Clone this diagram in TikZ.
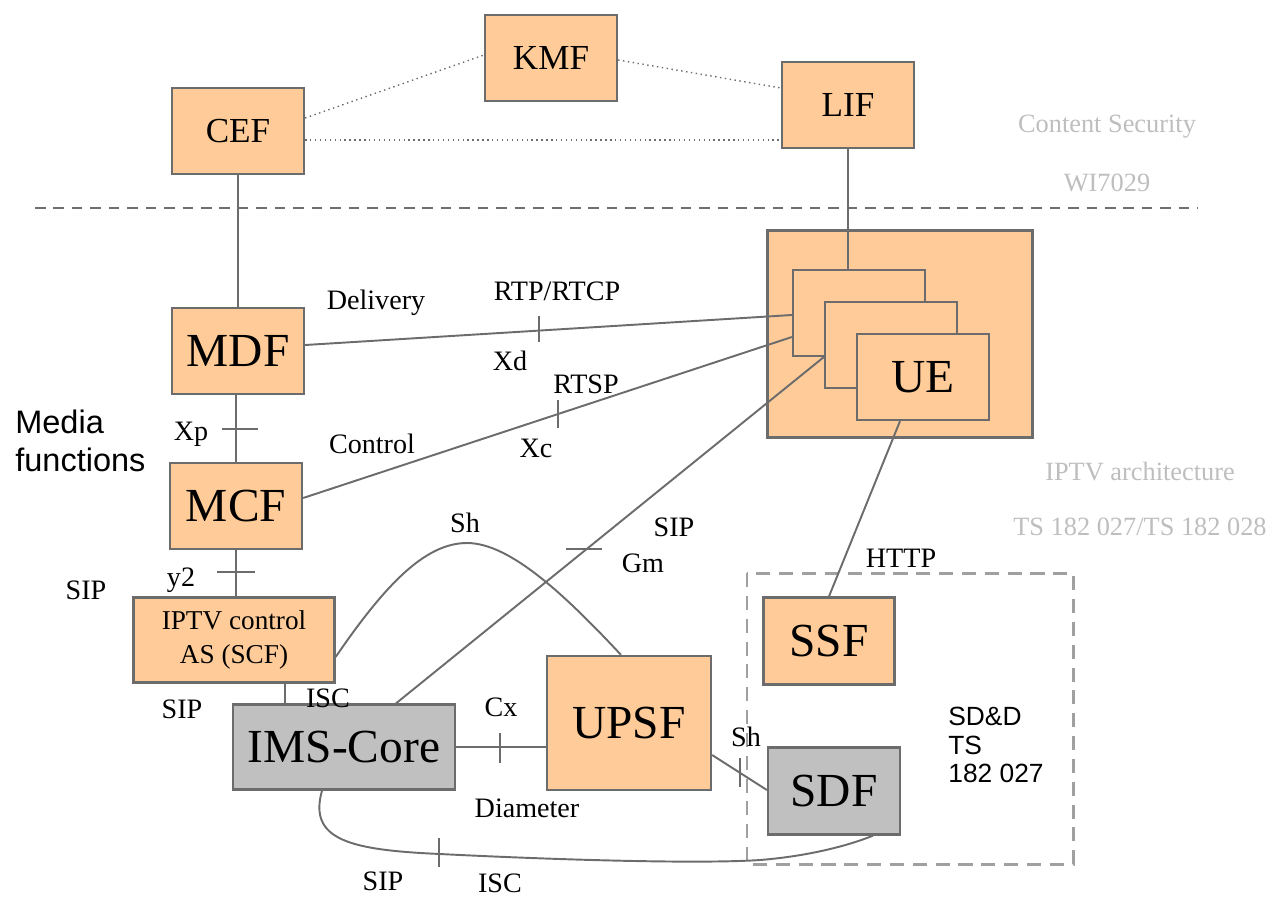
\documentclass[tikz,border=0pt]{standalone}
\usepackage{fontspec}
\setmainfont{Liberation Serif}
\setsansfont{Liberation Sans}
\definecolor{peach}{RGB}{255,204,153}
\definecolor{edge}{RGB}{108,108,108}
\definecolor{corefill}{RGB}{192,192,192}
\definecolor{faint}{RGB}{190,190,190}
\definecolor{sep}{RGB}{110,110,110}
\definecolor{sdd}{RGB}{160,160,160}
\tikzset{
	func/.style={draw=edge, line width=1.3pt, fill=peach, inner sep=0pt,
		minimum width=2.64cm, minimum height=1.72cm},
	core/.style={func, fill=corefill},
	link/.style={draw=edge, line width=1.1pt},
	lbl/.style={font=\fontsize{16}{18}\selectfont, inner sep=0pt},
	note/.style={text=faint, font=\fontsize{15}{18}\selectfont, inner sep=0pt},
	small/.style={font=\fontsize{20}{24}\selectfont},
	big/.style={font=\fontsize{27}{30}\selectfont}
}
\begin{document}
\begin{tikzpicture}[x=0.02cm, y=-0.02cm]
	\useasboundingbox (0,0) rectangle (1272,897);
	
	% content security part
	\node [func, small] (kmf) at (551,58) {KMF};
	\node [func, small] (cef) at (238,131) {CEF};
	\node [func, small] (lif) at (848,105) {LIF};
	\draw [edge, line width=.8pt, dotted] (cef.east |- 0,118) -- (kmf.west |- 0,55);
	\draw [edge, line width=.8pt, dotted] (kmf.east |- 0,60) -- (lif.west |- 0,88);
	\draw [edge, line width=.8pt, dotted] (cef.east |- 0,140) -- (lif.west |- 0,140);
	\node [note] (cs) at (1107,127) {Content Security};
	\node [note] (wi) at (1107,183) {WI7029};
	\draw [sep, line width=1.3pt, dash pattern=on 6pt off 4.5pt] (35,208) -- (1198,208);
	
	% user equipment
	\node [func, minimum width=5.3cm, minimum height=4.14cm] (uebox) at (900,334) {};
	\node [func] (ue1) at (859,313) {};
	\node [func] (ue2) at (891,345) {};
	\node [func, big] (ue3) at (923,377) {UE};
	
	% media functions
	\node [func, big] (mdf) at (238,351) {MDF};
	\node [func, big] (mcf) at (236,506) {MCF};
	\node [anchor=west, align=left, font=\sffamily\fontsize{18.5}{22}\selectfont, inner sep=0pt] (media) at (15,441) {Media\\functions};
	\node [func, minimum width=4.02cm, minimum height=1.7cm, align=center,
		font=\fontsize{15.5}{19}\selectfont] (iptv) at (234,640) {IPTV control\\AS (SCF)};
	\node [core, big, minimum width=4.44cm, minimum height=1.7cm] (ims) at (344,747) {IMS-Core};
	\node [func, big, minimum width=3.28cm, minimum height=2.68cm] (upsf) at (629,723) {UPSF};
	
	% SD&D
	\draw [sdd, line width=1.7pt, dash pattern=on 8pt off 5pt] (747,573) rectangle (1073,864);
	\node [func, big, minimum width=2.62cm, minimum height=1.74cm] (ssf) at (829,641) {SSF};
	\node [core, big, minimum width=2.64cm, minimum height=1.74cm] (sdf) at (834,791) {SDF};
	\node [anchor=west, align=left, font=\sffamily\fontsize{15}{16}\selectfont, inner sep=0pt] (sddtext) at (948,745) {SD\&D\\TS\\182 027};
	\node [note] (arch) at (1140,472) {IPTV architecture};
	\node [note] (ts) at (1140,527) {TS 182 027/TS 182 028};
	
	% connections
	\draw [link] (lif.south) -- (ue1.north -| lif.south);
	\draw [link] (cef.south) -- (mdf.north);
	\draw [link] (mcf.north |- mdf.south) -- (mcf.north);
	\draw [link] (mcf.south) -- (mcf.south |- iptv.north);
	\draw [link] (iptv.south -| 285,0) -- (ims.north -| 285,0);
	\draw [link] (mdf.east |- 0,345) -- (ue1.west |- 0,315);
	\draw [link] (mcf.east |- 0,498) -- (ue1.west |- 0,337);
	\draw [link] (ims.north -| 396,0) -- (ue2.west |- 0,357);
	\draw [link] (ue3.south -| 900,0) -- (ssf.north);
	\draw [link] (ims.east) -- (upsf.west |- ims.east);
	\draw [link] (upsf.east |- 0,755) -- (sdf.west |- 0,790);
	\draw [link] (iptv.east |- 0,657) .. controls (385,585) and (425,543) .. (467,543)
		.. controls (510,543) and (565,595) .. (upsf.north -| 621,0);
	\draw [link] (ims.south -| 322,0) .. controls (308,840) and (350,850) .. (440,854)
		.. controls (560,860) and (700,864) .. (760,860)
		.. controls (810,856) and (850,845) .. (sdf.south -| 873,0);
	
	% reference point ticks
	\draw [link] (222,429) -- (258,429);
	\draw [link] (217,572) -- (255,572);
	\draw [link] (539,316) -- (539,342);
	\draw [link] (558,400) -- (558,428);
	\draw [link] (566,549) -- (602,549);
	\draw [link] (500,733) -- (500,763);
	\draw [link] (740,758) -- (740,787);
	\draw [link] (439,838) -- (439,867);
	
	% labels
	\node [lbl] (ldel) at (376,303) {Delivery};
	\node [lbl] (lrtp) at (557,291) {RTP/RTCP};
	\node [lbl] (lxd) at (510,361) {Xd};
	\node [lbl] (lrtsp) at (586,384) {RTSP};
	\node [lbl] (lxc) at (536,448) {Xc};
	\node [lbl] (lctl) at (372,444) {Control};
	\node [lbl] (lxp) at (191,434) {Xp};
	\node [lbl] (ly) at (181,580) {y2};
	\node [lbl] (lsipa) at (86,590) {SIP};
	\node [lbl] (lsipb) at (182,709) {SIP};
	\node [lbl] (lisca) at (328,698) {ISC};
	\node [lbl] (lsha) at (465,523) {Sh};
	\node [lbl] (lsipc) at (674,527) {SIP};
	\node [lbl] (lgm) at (643,563) {Gm};
	\node [lbl] (lcx) at (501,707) {Cx};
	\node [lbl] (ldia) at (527,808) {Diameter};
	\node [lbl] (lshb) at (746,737) {Sh};
	\node [lbl] (lhttp) at (901,558) {HTTP};
	\node [lbl] (lsipd) at (383,881) {SIP};
	\node [lbl] (liscb) at (500,883) {ISC};
\end{tikzpicture}
\end{document}
